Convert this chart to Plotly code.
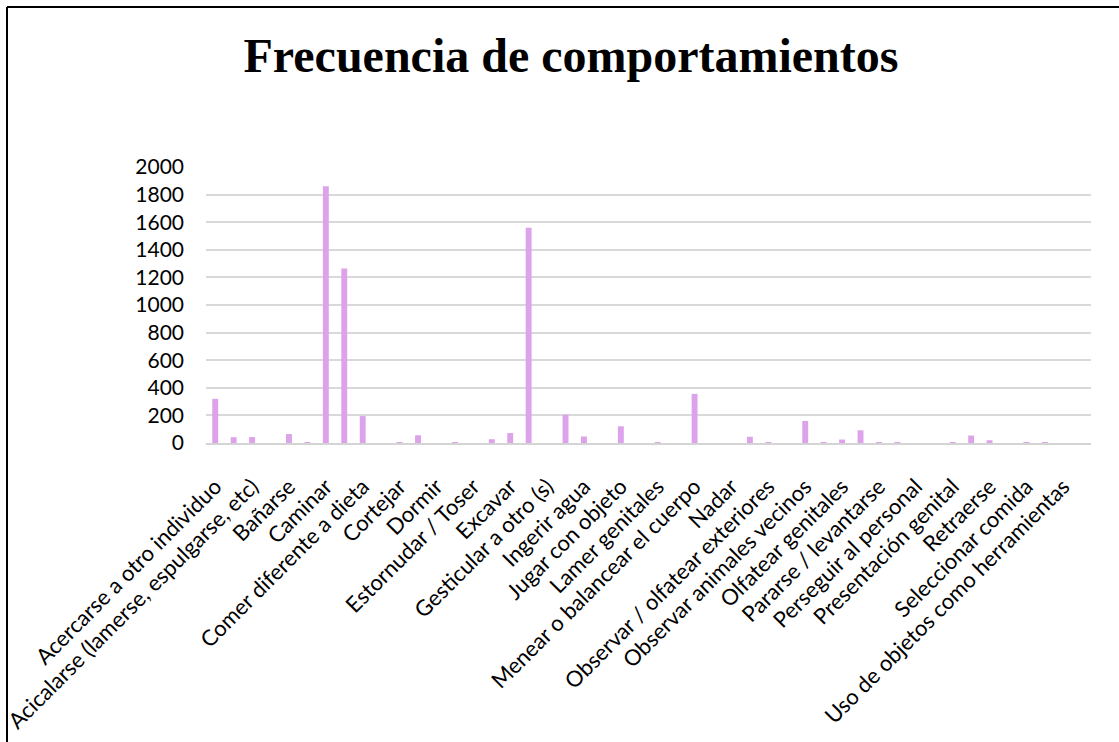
import plotly.graph_objects as go

categories = [
    "Acercarse a otro individuo", "Acercarse al personal",
    "Acicalarse (lamerse, espulgarse, etc)", "Agredir a otro individuo",
    "Bañarse", "Bostezar",
    "Caminar", "Comer",
    "Comer diferente a dieta", "Copular",
    "Cortejar", "Defecar",
    "Dormir", "Esconderse",
    "Estornudar / Toser", "Evitar a otro individuo",
    "Excavar", "Forrajear",
    "Gesticular a otro (s)", "Inactividad",
    "Ingerir agua", "Interactuar con el personal",
    "Jugar con objeto", "Jugar con otro individuo",
    "Lamer genitales", "Marcar territorio",
    "Menear o balancear el cuerpo", "Morder objetos",
    "Nadar", "Observar al personal",
    "Observar / olfatear exteriores", "Observar a otro individuo",
    "Observar animales vecinos", "Olfatear el suelo",
    "Olfatear genitales", "Orinar",
    "Pararse / levantarse", "Perseguir a otro individuo",
    "Perseguir al personal", "Postura de alerta",
    "Presentación genital", "Rascarse",
    "Retraerse", "Revolcarse",
    "Seleccionar comida", "Trepar",
    "Uso de objetos como herramientas", "Vocalizar",
]

values = [
    320, 42, 43, 0, 65, 6, 1860, 1265, 195, 0,
    6, 56, 0, 6, 0, 27, 72, 1560, 0, 205,
    47, 0, 121, 0, 5, 0, 356, 0, 0, 45,
    5, 0, 160, 4, 25, 92, 5, 5, 0, 0,
    5, 54, 20, 0, 3, 3, 0, 0,
]

shown_labels = categories[::2]

title_text = "Frecuencia de comportamientos"
y_ticks = list(range(0, 2001, 200))

W, H = 1119, 742
L, R, T, B = 206, 28, 167, 299
pw, ph = W - L - R, H - T - B

fig = go.Figure(go.Bar(
    x=categories, y=values,
    marker=dict(color="#DCA2EA", line=dict(width=0)),
))

fig.update_layout(
    width=W, height=H,
    margin=dict(l=L, r=R, t=T, b=B, autoexpand=False),
    paper_bgcolor="white", plot_bgcolor="white",
    bargap=0.68,
    showlegend=False,
    title=dict(
        text=title_text,
        x=571 / W, xanchor="center", xref="container",
        y=1 - 55 / H, yanchor="middle", yref="container",
        font=dict(family="Liberation Serif", size=48, color="black", weight="bold"),
    ),
    font=dict(family="Lato", color="black"),
)

fig.update_xaxes(
    type="category",
    tickmode="array", tickvals=shown_labels, ticktext=shown_labels,
    tickangle=-45,
    tickfont=dict(family="Lato", size=22, color="black"),
    showgrid=False, ticks="", showline=True, linecolor="#d4d4d4", linewidth=2,
    ticklabelstandoff=20,
)
fig.update_yaxes(
    range=[0, 2000], tickmode="array", tickvals=y_ticks,
    tickfont=dict(family="Lato", size=21, color="black"),
    showgrid=True, gridcolor="#d9d9d9", gridwidth=1.5,
    zeroline=False, showline=False, ticks="",
    ticklabelstandoff=21,
)

# outer chart frame (top and left edges visible)
x0 = (7 - L) / pw
y0 = (H - B - 7) / ph
fig.add_shape(type="line", xref="paper", yref="paper",
              x0=x0, x1=(W + 20 - L) / pw, y0=y0, y1=y0,
              line=dict(color="black", width=2))
fig.add_shape(type="line", xref="paper", yref="paper",
              x0=x0, x1=x0, y0=y0, y1=(H - B - H - 20) / ph,
              line=dict(color="black", width=2))

fig.write_html("out.html")
